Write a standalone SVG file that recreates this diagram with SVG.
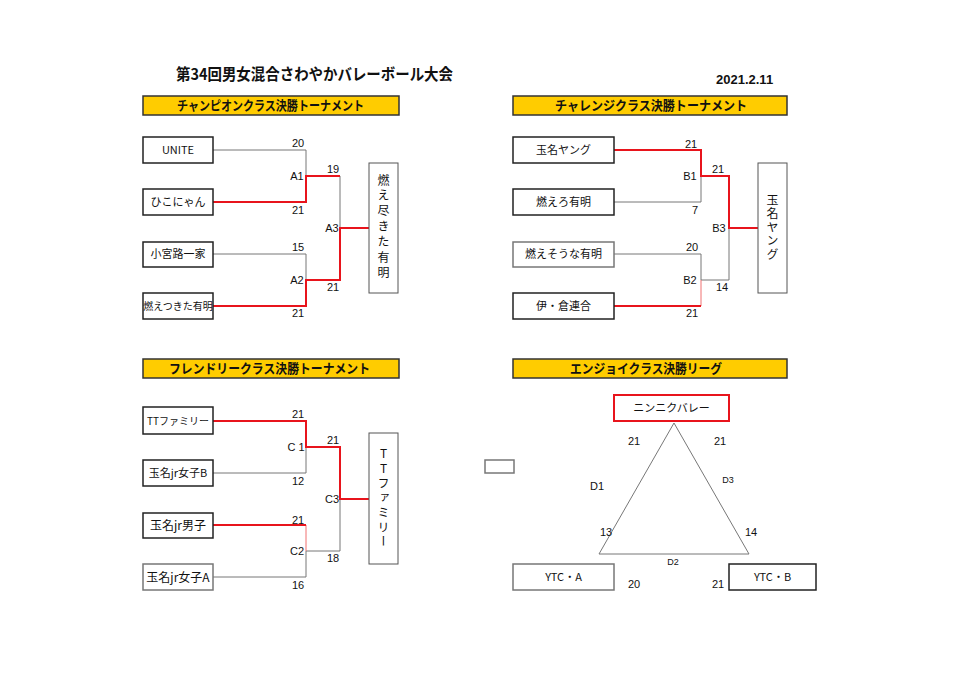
<svg xmlns="http://www.w3.org/2000/svg" width="960" height="679" viewBox="0 0 960 679">
<style>
text{font-family:"Noto Sans CJK JP","Liberation Sans",sans-serif;fill:#111}
.t{font-size:16px;font-weight:bold}
.d{font-size:13px;font-weight:bold;font-family:"Liberation Sans","Noto Sans CJK JP",sans-serif}
.h rect{fill:#ffcc00;stroke:#333;stroke-width:1.5}
.h text{font-size:13px;font-weight:bold}
.b rect{fill:#fff;stroke:#222;stroke-width:1.5}
.b.g rect{stroke:#777}
.b text{font-size:11px;text-anchor:middle}
.w rect{fill:#fff;stroke:#555;stroke-width:1}
.w text{font-size:12px;writing-mode:vertical-rl;text-orientation:upright;text-anchor:middle}
.n{font-size:11px;text-anchor:middle;font-family:"Liberation Sans",sans-serif}
.s{font-size:9px;text-anchor:middle;font-family:"Liberation Sans",sans-serif}
.gl{fill:none;stroke:#777;stroke-width:1}
.rl{fill:none;stroke:#e8141c;stroke-width:2}
.pl{fill:none;stroke:#f07070;stroke-width:1}
</style>
<rect width="960" height="679" fill="#fff"/>
<text class="t" x="176" y="80" textLength="277" lengthAdjust="spacingAndGlyphs">第34回男女混合さわやかバレーボール大会</text>
<text class="d" x="716" y="84">2021.2.11</text>

<g id="hdrA" class="h"><rect x="143" y="96" width="256" height="19"/><text x="177" y="110" textLength="187" lengthAdjust="spacingAndGlyphs">チャンピオンクラス決勝トーナメント</text></g>
<g id="hdrB" class="h"><rect x="513" y="96" width="274" height="19"/><text x="555" y="110" textLength="192" lengthAdjust="spacingAndGlyphs">チャレンジクラス決勝トーナメント</text></g>
<g id="hdrC" class="h"><rect x="143" y="359" width="256" height="19"/><text x="169" y="373" textLength="201" lengthAdjust="spacingAndGlyphs">フレンドリークラス決勝トーナメント</text></g>
<g id="hdrD" class="h"><rect x="513" y="359" width="274" height="19"/><text x="570" y="373" textLength="152" lengthAdjust="spacingAndGlyphs">エンジョイクラス決勝リーグ</text></g>

<g id="connectors">
<!-- A -->
<polyline class="gl" points="213,150 306,150 306,202"/>
<polyline class="gl" points="340,176 340,228"/>
<polyline class="gl" points="213,254 306,254 306,280"/>
<polyline class="rl" points="213,202 306,202 306,176 340,176"/>
<polyline class="rl" points="213,306 306,306 306,280 340,280 340,228 369,228"/>
<!-- B -->
<polyline class="gl" points="614,202 701,202 701,176"/>
<polyline class="gl" points="729,228 729,280 701,280"/>
<polyline class="gl" points="614,254 701,254 701,280"/>
<polyline class="pl" points="701,280 701,306"/>
<polyline class="rl" points="614,150 701,150 701,176 729,176 729,228 758,228"/>
<polyline class="rl" points="614,306 701,306"/>
<!-- C -->
<polyline class="gl" points="213,473 306,473 306,447"/>
<polyline class="gl" points="340,499 340,551 306,551"/>
<polyline class="gl" points="213,577 306,577 306,551"/>
<polyline class="pl" points="306,525 306,551"/>
<polyline class="rl" points="213,421 306,421 306,447 340,447 340,499 369,499"/>
<polyline class="rl" points="213,525 306,525"/>
<!-- D -->
<polygon class="gl" points="674,423 599,554 749,554"/>
</g>

<g id="A-UNITE" class="b"><rect x="143" y="137" width="70" height="26"/><text x="178" y="154">UNITE</text></g>
<g id="A-hiko" class="b"><rect x="143" y="189" width="70" height="26"/><text x="178" y="206">ひこにゃん</text></g>
<g id="A-komiya" class="b"><rect x="143" y="242" width="70" height="25"/><text x="178" y="258">小宮路一家</text></g>
<g id="A-moetsuki" class="b"><rect x="143" y="293" width="70" height="26"/><text x="178" y="310" style="font-size:10px">燃えつきた有明</text></g>
<g id="A-win" class="w"><rect x="369" y="163" width="29" height="130"/><text x="383.5" y="228" style="letter-spacing:3.4px">燃え尽きた有明</text></g>
<g id="A-labels">
<text class="n" x="298" y="147">20</text><text class="n" x="297" y="180">A1</text><text class="n" x="298" y="214">21</text>
<text class="n" x="333" y="173">19</text><text class="n" x="332" y="232">A3</text>
<text class="n" x="298" y="251">15</text><text class="n" x="297" y="284">A2</text><text class="n" x="333" y="291">21</text><text class="n" x="298" y="317">21</text>
</g>

<g id="B-tamana" class="b"><rect x="513" y="137" width="101" height="26"/><text x="563.5" y="154">玉名ヤング</text></g>
<g id="B-moero" class="b"><rect x="513" y="189" width="101" height="26"/><text x="563.5" y="206">燃えろ有明</text></g>
<g id="B-moesou" class="b g"><rect x="513" y="242" width="101" height="25"/><text x="563.5" y="258">燃えそうな有明</text></g>
<g id="B-ikura" class="b"><rect x="513" y="293" width="101" height="26"/><text x="563.5" y="310">伊・倉連合</text></g>
<g id="B-win" class="w"><rect x="758" y="163" width="29" height="130"/><text x="772.5" y="228" style="letter-spacing:1.5px">玉名ヤング</text></g>
<g id="B-labels">
<text class="n" x="691" y="148">21</text><text class="n" x="690" y="180">B1</text><text class="n" x="695" y="214">7</text>
<text class="n" x="718" y="173">21</text><text class="n" x="719" y="232">B3</text>
<text class="n" x="692" y="251">20</text><text class="n" x="690" y="284">B2</text><text class="n" x="722" y="291">14</text><text class="n" x="692" y="317">21</text>
</g>

<g id="C-TT" class="b"><rect x="143" y="407" width="70" height="27"/><text x="178" y="425" style="font-size:10px">TTファミリー</text></g>
<g id="C-jrB" class="b"><rect x="143" y="460" width="70" height="26"/><text x="178" y="477">玉名jr女子B</text></g>
<g id="C-jrM" class="b"><rect x="143" y="513" width="70" height="25"/><text x="178" y="530" style="font-size:12px">玉名jr男子</text></g>
<g id="C-jrA" class="b g"><rect x="143" y="564" width="70" height="26"/><text x="178" y="582" style="font-size:12px">玉名jr女子A</text></g>
<g id="C-win" class="w"><rect x="369" y="433" width="29" height="131"/><text x="383.5" y="499" style="letter-spacing:2.7px">TTファミリー</text></g>
<g id="C-labels">
<text class="n" x="298" y="418">21</text><text class="n" x="296" y="451">C 1</text><text class="n" x="298" y="485">12</text>
<text class="n" x="333" y="444">21</text><text class="n" x="332" y="503">C3</text>
<text class="n" x="298" y="524">21</text><text class="n" x="297" y="555">C2</text><text class="n" x="333" y="562">18</text><text class="n" x="298" y="589">16</text>
</g>

<g id="D-ninniku" class="b"><rect x="614" y="395" width="115" height="26" style="stroke:#e8141c;stroke-width:2"/><text x="671.5" y="412">ニンニクバレー</text></g>
<g id="D-empty" class="b g"><rect x="485" y="460" width="29" height="13"/></g>
<g id="D-ytcA" class="b g"><rect x="513" y="564" width="101" height="26"/><text x="563.5" y="581">YTC・A</text></g>
<g id="D-ytcB" class="b"><rect x="729" y="564" width="87" height="26"/><text x="772.5" y="581">YTC・B</text></g>
<g id="D-labels">
<text class="n" x="634" y="445">21</text><text class="n" x="720" y="445">21</text>
<text class="n" x="597" y="490">D1</text><text class="s" x="728" y="483">D3</text>
<text class="n" x="606" y="536">13</text><text class="n" x="751" y="536">14</text>
<text class="s" x="673" y="565">D2</text>
<text class="n" x="634" y="588">20</text><text class="n" x="718" y="588">21</text>
</g>
</svg>
